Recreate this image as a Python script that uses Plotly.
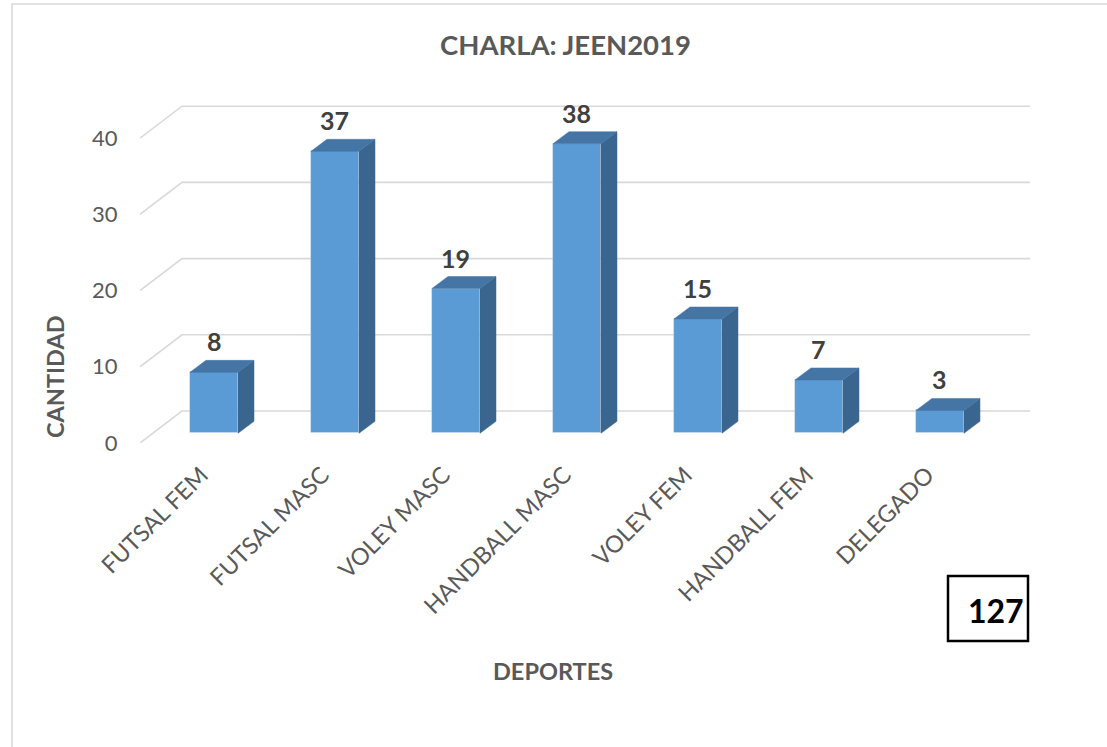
import plotly.graph_objects as go

# ---------------- data ----------------
categories = ["FUTSAL FEM", "FUTSAL MASC", "VOLEY MASC", "HANDBALL MASC",
              "VOLEY FEM", "HANDBALL FEM", "DELEGADO"]
values = [8, 37, 19, 38, 15, 7, 3]
y_ticks = [0, 10, 20, 30, 40]
title_text = "CHARLA: JEEN2019"
x_title = "DEPORTES"
y_title = "CANTIDAD"
total_text = str(sum(values))

# ---------------- style / pseudo-3D geometry (axis units) ----------------
FONT = "Lato"
PX_X = 121.0          # pixels per category
PX_Y = 7.62           # pixels per value unit
WALL_DX, WALL_DY = 42 / PX_X, 32 / PX_Y     # depth of back wall
BAR_FX, BAR_FY = 12.7 / PX_X, 9.7 / PX_Y    # bar front plane offset
BAR_DX, BAR_DY = 16 / PX_X, 12 / PX_Y       # bar depth
BAR_W = 48 / PX_X
X_RANGE = [-0.5066, 6.849]
Y_RANGE = [0, 45.01]

FRONT = "#5B9BD5"
TOP = "#4575A4"
SIDE = "#3A658F"
GRID = "#D9D9D9"

fig = go.Figure()

# back-wall gridlines (behind everything)
for v in y_ticks:
    fig.add_shape(type="path", xref="x", yref="y", layer="below",
                  path=(f"M {X_RANGE[0]} {v} L {X_RANGE[0] + WALL_DX} {v + WALL_DY} "
                        f"L {X_RANGE[1]} {v + WALL_DY}"),
                  line=dict(color=GRID, width=1.6))

# front faces
xs = list(range(len(categories)))
fig.add_trace(go.Bar(x=[i + BAR_FX for i in xs], y=values, base=BAR_FY,
                     width=BAR_W, marker=dict(color=FRONT,
                     line=dict(color="rgba(255,255,255,0.35)", width=0.8)),
                     hoverinfo="skip", showlegend=False))

# side and top faces
side_x, side_y, top_x, top_y = [], [], [], []
for i, v in zip(xs, values):
    xl = i + BAR_FX - BAR_W / 2
    xr = i + BAR_FX + BAR_W / 2
    b = BAR_FY
    t = BAR_FY + v
    side_x += [xr, xr, xr + BAR_DX, xr + BAR_DX, xr, None]
    side_y += [b, t, t + BAR_DY, b + BAR_DY, b, None]
    top_x += [xl, xr, xr + BAR_DX, xl + BAR_DX, xl, None]
    top_y += [t, t, t + BAR_DY, t + BAR_DY, t, None]
fig.add_trace(go.Scatter(x=side_x, y=side_y, mode="lines", fill="toself",
                         fillcolor=SIDE, line=dict(color=SIDE, width=0.5),
                         hoverinfo="skip", showlegend=False))
fig.add_trace(go.Scatter(x=top_x, y=top_y, mode="lines", fill="toself",
                         fillcolor=TOP, line=dict(color=TOP, width=0.5),
                         hoverinfo="skip", showlegend=False))

# data labels
for i, v in zip(xs, values):
    fig.add_annotation(x=i + BAR_FX, y=BAR_FY + v + BAR_DY, text=f"<b>{v}</b>",
                       showarrow=False, xanchor="center", yanchor="bottom", yshift=2,
                       font=dict(family=FONT, size=25, color="#404040"))

# titles
fig.add_annotation(xref="paper", yref="paper", x=(565 - 140) / 890, y=(443 - 45) / 343,
                   text=f"<b>{title_text}</b>", showarrow=False,
                   xanchor="center", yanchor="middle",
                   font=dict(family=FONT, size=27.5, color="#595959"))
fig.add_annotation(xref="paper", yref="paper", x=(553 - 140) / 890, y=(443 - 671) / 343,
                   text=f"<b>{x_title}</b>", showarrow=False,
                   xanchor="center", yanchor="middle",
                   font=dict(family=FONT, size=23.5, color="#595959"))
fig.add_annotation(xref="paper", yref="paper", x=(55 - 140) / 890, y=(443 - 377) / 343,
                   text=f"<b>{y_title}</b>", showarrow=False, textangle=-90,
                   xanchor="center", yanchor="middle",
                   font=dict(family=FONT, size=23.5, color="#595959"))

# total box
fig.add_shape(type="rect", xref="paper", yref="paper",
              x0=(948 - 140) / 890, x1=(1028 - 140) / 890,
              y0=(443 - 641) / 343, y1=(443 - 576) / 343,
              line=dict(color="black", width=2.5))
fig.add_annotation(xref="paper", yref="paper", x=(996 - 140) / 890, y=(443 - 610) / 343,
                   text=f"<b>{total_text}</b>", showarrow=False,
                   xanchor="center", yanchor="middle",
                   font=dict(family=FONT, size=32, color="black"))

# outer chart frame
fig.add_shape(type="rect", xref="paper", yref="paper",
              x0=(12 - 140) / 890, x1=1.3, y0=-1.3, y1=(443 - 4) / 343,
              line=dict(color=GRID, width=1.6), layer="below")

fig.update_layout(
    width=1107, height=747,
    margin=dict(l=140, r=77, t=100, b=304),
    paper_bgcolor="white", plot_bgcolor="white",
    font=dict(family=FONT, color="#595959"),
    bargap=0,
    xaxis=dict(range=X_RANGE, tickvals=xs, ticktext=categories, tickangle=-45,
               ticks="outside", ticklen=8, tickcolor="rgba(0,0,0,0)",
               showgrid=False, zeroline=False, showline=False, fixedrange=True,
               tickfont=dict(family=FONT, size=23.5, color="#595959")),
    yaxis=dict(range=Y_RANGE, tickvals=y_ticks, ticks="outside", ticklen=17,
               tickcolor="rgba(0,0,0,0)", showgrid=False, zeroline=False,
               showline=False, fixedrange=True,
               tickfont=dict(family=FONT, size=22, color="#595959")),
)

fig.write_html("out.html", config={"displayModeBar": False},
               post_script="document.body.style.margin='0';document.body.style.overflow='hidden';")
